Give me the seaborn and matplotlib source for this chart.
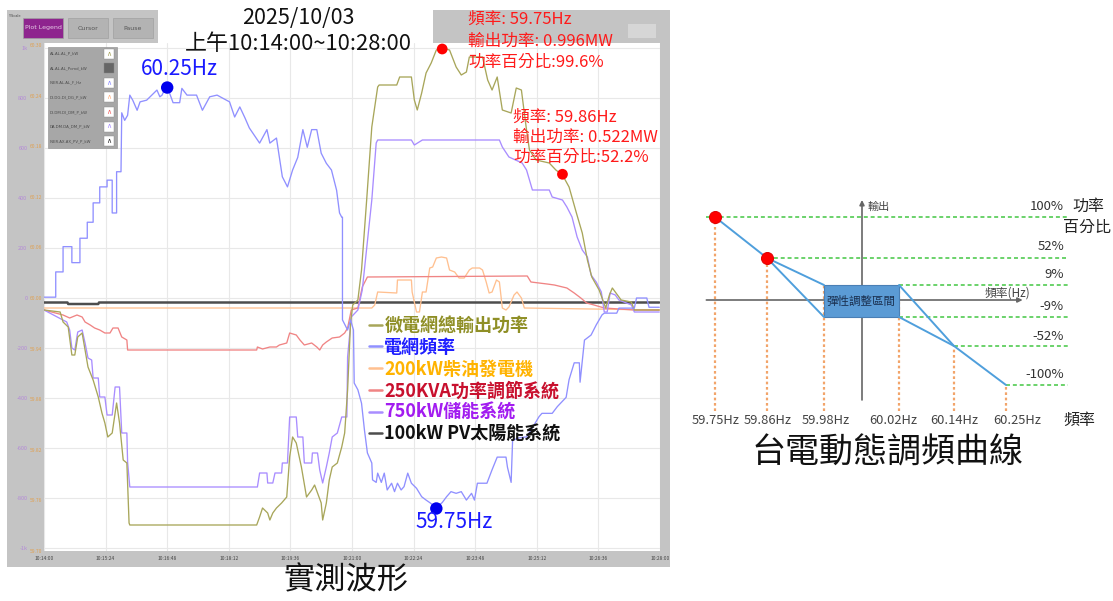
import numpy as np
import pandas as pd
import matplotlib
matplotlib.use("Agg")
import matplotlib.pyplot as plt
from matplotlib.patches import Rectangle
import seaborn as sns

# ---------------- data (time in s from 10:14:00, power in kW, frequency in Hz) ----------------
time_ticks = [0, 84, 168, 252, 336, 420, 504, 588, 672, 756, 840]
time_labels = ["10:14:00", "10:15:24", "10:16:48", "10:18:12", "10:19:36", "10:21:00",
               "10:22:24", "10:23:48", "10:25:12", "10:26:36", "10:28:00"]
kw_ticks = [-1000, -800, -600, -400, -200, 0, 200, 400, 600, 800, 1000]
kw_labels = ["-1k", "-800", "-600", "-400", "-200", "0", "200", "400", "600", "800", "1k"]
hz_ticks = [59.70, 59.76, 59.82, 59.88, 59.94, 60.00, 60.06, 60.12, 60.18, 60.24, 60.30]

series_names = ["微電網總輸出功率", "電網頻率", "200kW柴油發電機",
                "250KVA功率調節系統", "750kW儲能系統", "100kW PV太陽能系統"]
tag_labels = ["AL.AL.AL_P_kW", "AL.AL.AL_Pcmd_kW", "INER.AL.AL_F_Hz", "DI.DG.DI_DG_P_kW",
              "DI.DM.DI_DM_P_kW", "DA.DM.DA_DM_P_kW", "INER.AX.AX_PV_P_kW"]

total_t = [0, 22, 26, 33, 38, 42, 46, 52, 56, 60, 67, 74, 79, 83, 87, 93, 99, 103, 108, 113,
           116, 117, 290, 294, 298, 305, 308, 312, 317, 324, 331, 335, 339, 344, 351, 358, 365, 369, 373, 378,
           380, 385, 389, 393, 400, 406, 410, 414, 418, 421, 428, 433, 440, 447, 455, 457, 481, 485, 501, 505,
           509, 515, 521, 528, 535, 543, 553, 562, 569, 576, 580, 598, 605, 611, 618, 625, 637, 644, 651, 655,
           658, 662, 671, 689, 698, 707, 716, 726, 734, 741, 747, 757, 761, 766, 771, 775, 779, 787, 801, 805,
           839]
total_kw = [-48, -56, -96, -116, -228, -228, -156, -140, -208, -276, -328, -396, -460, -500, -556, -540, -420, -500, -648, -660,
            -900, -908, -908, -876, -840, -860, -888, -860, -840, -820, -796, -636, -556, -580, -676, -796, -768, -748, -780, -820,
            -888, -820, -728, -676, -660, -596, -540, -368, -100, -28, -8, 112, 392, 684, 844, 852, 852, 884, 884, 792,
            752, 820, 900, 940, 992, 1000, 992, 924, 892, 904, 964, 964, 872, 832, 884, 752, 740, 840, 832, 740,
            672, 592, 552, 540, 512, 492, 444, 340, 260, 152, 84, 32, 0, -40, 12, 40, 24, -8, -16, -48,
            -48]

grid_t = [0, 16, 16, 26, 26, 38, 38, 49, 49, 59, 59, 67, 67, 76, 76, 86, 86, 93, 93, 99,
          99, 105, 106, 110, 114, 117, 121, 127, 131, 140, 147, 154, 158, 161, 165, 168, 176, 185, 188, 195,
          208, 216, 226, 236, 253, 260, 267, 274, 280, 294, 304, 308, 317, 321, 325, 332, 339, 346, 353, 359,
          365, 372, 378, 385, 392, 399, 403, 406, 407, 407, 414, 418, 422, 423, 428, 433, 437, 441, 447, 448,
          453, 455, 460, 464, 468, 474, 478, 482, 487, 491, 496, 501, 508, 515, 521, 526, 535, 543, 549, 555,
          562, 569, 576, 583, 587, 591, 604, 611, 618, 630, 632, 637, 639, 648, 658, 664, 675, 679, 693, 700,
          712, 716, 723, 730, 731, 737, 746, 753, 761, 764, 781, 784, 805, 808, 822, 825, 839]
grid_hz = [60.001, 60.001, 60.031, 60.031, 60.061, 60.061, 60.042, 60.042, 60.071, 60.071, 60.090, 60.090, 60.113, 60.113, 60.132, 60.132, 60.140, 60.140, 60.101, 60.101,
           60.150, 60.150, 60.220, 60.211, 60.217, 60.241, 60.235, 60.223, 60.233, 60.235, 60.241, 60.247, 60.239, 60.241, 60.249, 60.251, 60.232, 60.232, 60.249, 60.241,
           60.241, 60.223, 60.239, 60.241, 60.233, 60.215, 60.227, 60.214, 60.202, 60.184, 60.200, 60.184, 60.190, 60.167, 60.144, 60.132, 60.152, 60.167, 60.200, 60.179,
           60.200, 60.200, 60.172, 60.160, 60.152, 60.128, 60.101, 60.096, 60.096, 59.974, 59.962, 59.974, 59.962, 59.899, 59.891, 59.875, 59.843, 59.816, 59.804, 59.784,
           59.781, 59.792, 59.781, 59.792, 59.772, 59.780, 59.770, 59.780, 59.772, 59.776, 59.792, 59.780, 59.774, 59.764, 59.760, 59.757, 59.751, 59.757, 59.764, 59.770,
           59.768, 59.770, 59.760, 59.768, 59.760, 59.780, 59.780, 59.796, 59.811, 59.811, 59.799, 59.781, 59.831, 59.834, 59.835, 59.843, 59.859, 59.863, 59.863, 59.871,
           59.882, 59.903, 59.923, 59.923, 59.900, 59.950, 59.956, 59.968, 59.980, 59.982, 59.982, 59.988, 59.988, 60.000, 60.000, 59.989, 59.989]

ess_t = [0, 31, 35, 38, 42, 46, 52, 56, 60, 65, 67, 74, 76, 83, 86, 93, 97, 103, 106, 113,
         114, 117, 291, 294, 304, 305, 312, 315, 324, 325, 332, 335, 344, 346, 353, 355, 365, 366, 373, 376,
         380, 385, 389, 393, 400, 406, 413, 414, 419, 428, 434, 447, 453, 455, 501, 505, 516, 621, 625, 634,
         652, 658, 666, 689, 693, 707, 713, 720, 727, 734, 741, 746, 753, 760, 764, 768, 772, 779, 784, 801,
         805, 839]
ess_kw = [-48, -96, -128, -200, -208, -136, -128, -180, -240, -248, -320, -320, -396, -396, -468, -468, -356, -356, -540, -540,
          -656, -756, -756, -700, -700, -740, -740, -700, -700, -660, -660, -476, -476, -556, -556, -660, -660, -620, -620, -688,
          -740, -676, -620, -556, -540, -476, -476, -236, -76, -48, 32, 392, 620, 632, 632, 612, 632, 632, 604, 564,
          540, 512, 432, 432, 404, 392, 364, 324, 244, 192, 164, 92, 64, 24, -56, -56, 20, 12, -8, -28,
          -56, -56]

pcs_t = [0, 26, 35, 45, 52, 56, 63, 69, 76, 83, 90, 94, 101, 106, 113, 114, 290, 291, 298, 308,
         317, 321, 331, 335, 344, 349, 355, 365, 372, 376, 380, 385, 393, 403, 410, 414, 419, 428, 434, 441,
         659, 664, 686, 696, 713, 723, 732, 740, 750, 764, 805, 839]
pcs_kw = [-48, -68, -80, -68, -76, -96, -108, -120, -128, -140, -140, -120, -120, -156, -168, -208, -208, -196, -204, -196,
          -196, -188, -180, -140, -148, -168, -188, -180, -196, -208, -188, -176, -160, -156, -140, -120, -48, -40, 44, 84,
          88, 64, 56, 52, 40, 20, 0, -20, -28, -40, -48, -48]

diesel_t = [0, 447, 451, 455, 481, 482, 501, 502, 508, 512, 516, 521, 526, 530, 535, 542, 549, 553, 560, 566,
            573, 580, 584, 594, 598, 603, 607, 611, 617, 621, 625, 630, 634, 641, 645, 651, 655, 839]
diesel_kw = [-40, -40, -28, 24, 20, 72, 72, 24, -56, -56, 24, 24, 120, 124, 160, 164, 160, 112, 104, 80,
             80, 112, 120, 120, 112, 64, 20, 24, 72, 64, -40, -48, -36, 12, 24, 0, -40, -48]

pv_t = [0, 32, 33, 74, 75, 839]
pv_kw = [-18, -18, -24, -24, -18, -18]

pmark_t = [543, 707]
pmark_kw = [996, 495]
fmark_t = [168, 535]
fmark_hz = [60.25, 59.75]

# droop curve diagram
droop_freq = [59.75, 59.86, 59.98, 60.02, 60.14, 60.25]
droop_freq_labels = ["59.75Hz", "59.86Hz", "59.98Hz", "60.02Hz", "60.14Hz", "60.25Hz"]
droop_top = [100, 52, 9, 9, -52, -100]
level_pct = [100, 52, 9, -9, -52, -100]
level_labels = ["100%", "52%", "9%", "-9%", "-52%", "-100%"]
level_from = [59.735, 59.86, 60.02, 60.02, 60.14, 60.25]
seg_upper_f, seg_upper_p = [59.75, 59.86, 59.98], [100, 52, 9]
seg_lowleft_f, seg_lowleft_p = [59.86, 59.98], [52, -9]
seg_rtop_f, seg_rtop_p = [60.02, 60.14, 60.25], [9, -52, -100]
seg_rbot_f, seg_rbot_p = [60.02, 60.14], [-9, -52]
band_f = [59.98, 60.02]
band_p = [-9, 9]
red_f = [59.75, 59.86]
red_p = [100, 52]

# ---------------- style ----------------
sns.set_style("white")
plt.rcParams["font.family"] = ["Noto Sans CJK TC", "DejaVu Sans"]
plt.rcParams["axes.unicode_minus"] = False

W, H = 1113, 601
fig = plt.figure(figsize=(W / 100, H / 100), dpi=100)


def rect(x0, y0, x1, y1):
    return [x0 / W, 1 - y1 / H, (x1 - x0) / W, (y1 - y0) / H]


# background panel (screenshot frame)
bg = fig.add_axes([0, 0, 1, 1], zorder=-5)
bg.set_xlim(0, W)
bg.set_ylim(H, 0)
bg.axis("off")
bg.add_patch(Rectangle((7, 10), 663, 557, fc="#c4c4c4", ec="none"))
bg.add_patch(Rectangle((158, 0), 275, 43, fc="white", ec="none"))


def add_line(axis, t, v, color, lw=0.95):
    df = pd.DataFrame({"t": t, "v": v})
    sns.lineplot(data=df, x="t", y="v", ax=axis, color=color, linewidth=lw,
                 estimator=None, sort=False, legend=False)
    return axis.lines[-1]


# ---------------- measured waveform ----------------
ax = fig.add_axes(rect(44, 43, 660, 551), zorder=1)
ax.set_facecolor("white")
h_pv = add_line(ax, pv_t, pv_kw, "#4d4d4d", 1.8)
h_diesel = add_line(ax, diesel_t, diesel_kw, "#ffc090")
h_pcs = add_line(ax, pcs_t, pcs_kw, "#f08484")
h_ess = add_line(ax, ess_t, ess_kw, "#a98dff")
h_total = add_line(ax, total_t, total_kw, "#a8a65a")
sns.scatterplot(x=pmark_t, y=pmark_kw, ax=ax, color="#ff0000", s=60, edgecolor="none", zorder=6)
ax.set_xlim(0, 840)
ax.set_ylim(-1012, 1020)
ax.set_xticks(time_ticks)
ax.set_xticklabels(time_labels)
ax.set_yticks(kw_ticks)
ax.set_yticklabels(kw_labels)
ax.grid(True, color="#e8e8e8", lw=0.8)
ax.set_xlabel("")
ax.set_ylabel("")
for s in ax.spines.values():
    s.set_visible(False)
ax.tick_params(axis="x", labelsize=3.5, labelcolor="#444444", color="#888888", length=1.5, pad=2)
ax.tick_params(axis="y", labelsize=4, labelcolor="#b48ad8", length=0, pad=12)

ax2 = ax.twinx()
ax2.set_zorder(2)
ax2.patch.set_visible(False)
h_grid = add_line(ax2, grid_t, grid_hz, "#9090ff")
sns.scatterplot(x=fmark_t, y=fmark_hz, ax=ax2, color="#0000ee", s=80, edgecolor="none", zorder=6)
ax2.set_ylim(59.6995, 60.3029)
ax2.set_xlim(0, 840)
ax2.yaxis.tick_left()
ax2.set_yticks(hz_ticks)
ax2.set_yticklabels([f"{v:.2f}" for v in hz_ticks])
ax2.tick_params(axis="y", labelsize=3.5, labelcolor="#e0a050", length=0, pad=1)
ax2.set_ylabel("")
ax2.set_xlabel("")
for s in ax2.spines.values():
    s.set_visible(False)

legend_colors = ["#8f8f26", "#1f1fff", "#ffb300", "#c8102e", "#a21cf0", "#111111"]
leg = ax2.legend(handles=[h_total, h_grid, h_diesel, h_pcs, h_ess, h_pv], labels=series_names,
                 loc="upper left", bbox_to_anchor=(369 / W, 1 - 316 / H), bbox_transform=fig.transFigure,
                 frameon=False, handlelength=0.7, handletextpad=0.15, labelspacing=0.15,
                 borderpad=0, borderaxespad=0, labelcolor=legend_colors,
                 prop={"weight": "bold", "size": 13})
for lh in leg.get_lines():
    lh.set_linewidth(1.8)

# ---------------- droop curve diagram ----------------
FK = [59.55, 59.75, 59.86, 59.98, 60.00, 60.02, 60.14, 60.25, 60.60]
PK = [600, 715, 767, 824, 862, 899, 954, 1006, 1200]
YK = [-250, -100, -52, -9, 0, 9, 52, 100, 250]
SK = [-250, -85, -46, -17, 0, 15, 42, 83, 250]


def fx(f):
    return np.interp(f, FK, PK)


def ix(p):
    return np.interp(p, PK, FK)


def fy(v):
    return np.interp(v, YK, SK)


def iy(s):
    return np.interp(s, SK, YK)


rd = fig.add_axes(rect(690, 195, 1070, 430), zorder=3)
rd.patch.set_visible(False)
rd.set_xscale("function", functions=(fx, ix))
rd.set_yscale("function", functions=(fy, iy))

rd.hlines(level_pct, level_from, 60.362, colors="#5fcf5f", linestyles=(0, (2.2, 1.6)), lw=1.3, zorder=1)
rd.vlines(droop_freq, -124, droop_top, colors="#f2a46a", linestyles=(0, (1.2, 1.2)), lw=1.6, zorder=1)
rd.annotate("", xy=(60.28, 0), xytext=(59.735, 0),
            arrowprops=dict(arrowstyle="-|>", color="#666666", lw=1.2, mutation_scale=7,
                            shrinkA=0, shrinkB=0), zorder=2)
rd.annotate("", xy=(60.0, 115.3), xytext=(60.0, -113.6),
            arrowprops=dict(arrowstyle="-|>", color="#666666", lw=1.2, mutation_scale=7,
                            shrinkA=0, shrinkB=0), zorder=2)
rd.fill_between(band_f, [band_p[0]] * 2, [band_p[1]] * 2, color="#5b9bd5", ec="#4a7fb5", lw=0.8, zorder=3)
for sf, sp in [(seg_upper_f, seg_upper_p), (seg_lowleft_f, seg_lowleft_p),
               (seg_rtop_f, seg_rtop_p), (seg_rbot_f, seg_rbot_p)]:
    sns.lineplot(x=sf, y=sp, ax=rd, color="#4f9fdc", linewidth=1.4, estimator=None, sort=False,
                 legend=False, zorder=4)
sns.scatterplot(x=red_f, y=red_p, ax=rd, color="#ff0000", s=75, edgecolor="#e00000", zorder=5)
rd.set_xlim(ix(690), ix(1070))
rd.set_ylim(iy(-130), iy(105))
rd.axis("off")

# ---------------- overlay: frame widgets & text ----------------
ov = fig.add_axes([0, 0, 1, 1], zorder=10)
ov.set_xlim(0, W)
ov.set_ylim(H, 0)
ov.axis("off")

ov.text(8, 16, "Y-Scale", fontsize=2.5, color="#444444", family="DejaVu Sans", va="center")
for (bx, lab, fc, tc) in [(23, "Plot Legend", "#8e248e", "#e6cde6"), (68, "Cursor", "#b3b3b3", "#555555"),
                          (113, "Pause", "#b3b3b3", "#555555")]:
    ov.add_patch(Rectangle((bx, 18), 40, 20, fc=fc, ec="#a0a0a0", lw=0.5))
    ov.text(bx + 20, 28, lab, fontsize=4.5, color=tc, ha="center", va="center", family="DejaVu Sans")
ov.add_patch(Rectangle((628, 24), 28, 14, fc="#d6d6d6", ec="none"))

# in-plot tag list box
tag_colors = ["#a5a35c", "#555555", "#8c8cff", "#ffb080", "#f06060", "#a78bff", "#222222"]
ov.add_patch(Rectangle((48, 47), 69, 101, fc="#a7a7a7", ec="#999999", lw=0.5))
for i, (lab, col) in enumerate(zip(tag_labels, tag_colors)):
    yy = 53.5 + i * 14.6
    ov.text(50, yy, lab, fontsize=2.8, color="#4a4a4a", va="center", ha="left", family="DejaVu Sans")
    ov.add_patch(Rectangle((104, yy - 5), 10, 10, fc=("#666666" if i == 1 else "white"), ec="#8a8a8a", lw=0.3))
    if i != 1:
        ov.text(109, yy, "∧", fontsize=5, color=col, ha="center", va="center", family="DejaVu Sans")

ov.text(298, 18, "2025/10/03", fontsize=15.5, color="#111111", ha="center", va="center")
ov.text(298, 44, "上午10:14:00~10:28:00", fontsize=15.8, color="#111111", ha="center", va="center")
ov.text(179, 69, "60.25Hz", fontsize=15, color="#1a1aff", ha="center", va="center")
ov.text(454, 522, "59.75Hz", fontsize=15, color="#1a1aff", ha="center", va="center")
for yy, s in zip([19, 41, 62], ["頻率: 59.75Hz", "輸出功率: 0.996MW", "功率百分比:99.6%"]):
    ov.text(468, yy, s, fontsize=12, color="#ff1a1a", ha="left", va="center")
for yy, s in zip([117, 137, 157], ["頻率: 59.86Hz", "輸出功率: 0.522MW", "功率百分比:52.2%"]):
    ov.text(513, yy, s, fontsize=12, color="#ff1a1a", ha="left", va="center")
ov.text(346, 580, "實測波形", fontsize=22.5, color="#111111", ha="center", va="center")

# diagram texts
ov.text(868, 207, "輸出", fontsize=8, color="#444444", ha="left", va="center")
ov.text(985, 293, "頻率(Hz)", fontsize=8.5, color="#444444", ha="left", va="center")
ov.text(861, 301, "彈性調整區間", fontsize=8.3, color="#1a3050", ha="center", va="center")
for yy, s in zip([206, 246, 274, 307, 337, 375], level_labels):
    ov.text(1064, yy, s, fontsize=9.5, color="#333333", ha="right", va="center")
ov.text(1072, 206, "功率", fontsize=11.5, color="#222222", ha="left", va="center")
ov.text(1087, 227, "百分比", fontsize=11.5, color="#222222", ha="center", va="center")
for xx, s in zip([716, 768, 826, 893, 954, 1017], droop_freq_labels):
    ov.text(xx, 420, s, fontsize=9.3, color="#444444", ha="center", va="center")
ov.text(1079, 420, "頻率", fontsize=11.5, color="#222222", ha="center", va="center")
ov.text(888, 453, "台電動態調頻曲線", fontsize=24.5, color="#111111", ha="center", va="center")

fig.savefig("out.png", dpi=100, facecolor="white")
